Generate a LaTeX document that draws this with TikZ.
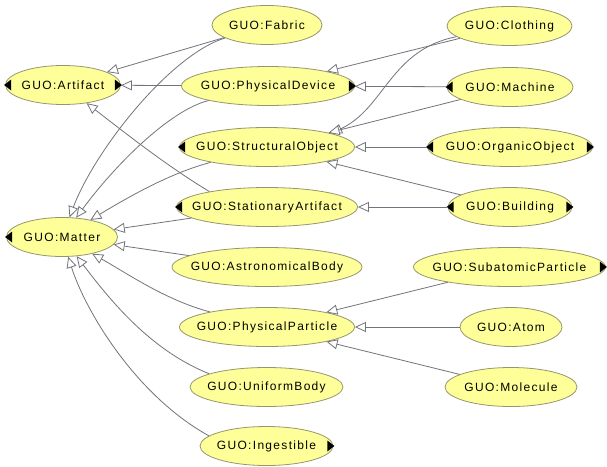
\documentclass[tikz,border=0pt]{standalone}
\usepackage{fontspec}
\setmainfont{Liberation Sans}[LetterSpace=11]
\usetikzlibrary{arrows.meta,shapes.geometric}
\definecolor{nodefill}{RGB}{255,255,153}
\definecolor{nodeline}{RGB}{150,150,110}
\definecolor{edgeline}{RGB}{115,115,125}
\newcommand\lab[1]{\makebox[0pt]{#1}}
\newcommand\lmark[1]{\fill[black] ([xshift=-1pt]#1.west) -- ++(7,-5.5) -- ++(0,11) -- cycle;}
\newcommand\rmark[1]{\fill[black] ([xshift=1pt]#1.east) -- ++(-7,-5.5) -- ++(0,11) -- cycle;}
\begin{document}
\begin{tikzpicture}[x=1pt,y=-1pt,
  cls/.style={ellipse, draw=nodeline, fill=nodefill, line width=0.8pt,
    minimum height=39pt, inner sep=0pt, font=\fontsize{12}{14}\selectfont, text=black},
  isa/.style={draw=edgeline, line width=0.8pt,
    -{Triangle[length=11pt,width=10pt,fill=white]}}]
\useasboundingbox (0,0) rectangle (607,466);
\fill[white] (0,0) rectangle (607,466);
% left column
\node[cls, minimum width=115pt] (art) at (63,85) {\lab{GUO:Artifact}};
\node[cls, minimum width=111pt] (mat) at (62,237) {\lab{GUO:Matter}};
% middle column
\node[cls, minimum width=110pt] (fab) at (267,25) {\lab{GUO:Fabric}};
\node[cls, minimum width=173pt] (pd) at (268,86) {\lab{GUO:PhysicalDevice}};
\node[cls, minimum width=175pt] (so) at (267,147) {\lab{GUO:StructuralObject}};
\node[cls, minimum width=181pt] (sa) at (267,207) {\lab{GUO:StationaryArtifact}};
\node[cls, minimum width=190pt] (ast) at (267,267) {\lab{GUO:AstronomicalBody}};
\node[cls, minimum width=175pt] (pp) at (267,327) {\lab{GUO:PhysicalParticle}};
\node[cls, minimum width=153pt] (ub) at (266.5,387) {\lab{GUO:UniformBody}};
\node[cls, minimum width=133pt] (ing) at (266.5,446) {\lab{GUO:Ingestible}};
% right column
\node[cls, minimum width=125pt] (clo) at (509.5,26) {\lab{GUO:Clothing}};
\node[cls, minimum width=126pt] (mac) at (510,87) {\lab{GUO:Machine}};
\node[cls, minimum width=165pt] (org) at (510,147) {\lab{GUO:OrganicObject}};
\node[cls, minimum width=124pt] (bld) at (510,207) {\lab{GUO:Building}};
\node[cls, minimum width=192pt] (sub) at (509.5,267) {\lab{GUO:SubatomicParticle}};
\node[cls, minimum width=102pt] (atom) at (511,327) {\lab{GUO:Atom}};
\node[cls, minimum width=132pt] (mol) at (511,387) {\lab{GUO:Molecule}};
% expand markers
\lmark{art} \rmark{art}
\rmark{pd}
\lmark{mac}
\lmark{so}
\lmark{org} \rmark{org}
\lmark{sa}
\lmark{bld} \rmark{bld}
\lmark{mat}
\rmark{sub}
\rmark{ing}
% edges
\draw[isa] (fab) -- (art);
\draw[isa] (pd) -- (art);
\draw[isa] (sa.165) .. controls (165,165) and (115,125) .. (art);
\draw[isa] (clo) -- (pd);
\draw[isa] (mac) -- (pd);
\draw[isa] (clo) .. controls (390,50) and (385,108) .. (so.12);
\draw[isa] (mac) -- (so.13);
\draw[isa] (org) -- (so);
\draw[isa] (bld) -- (so);
\draw[isa] (bld) -- (sa);
\draw[isa] (fab) .. controls (170,55) and (95,150) .. (mat);
\draw[isa] (pd) .. controls (170,110) and (115,165) .. (mat);
\draw[isa] (so) .. controls (175,172) and (140,190) .. (mat);
\draw[isa] (sa) -- (mat);
\draw[isa] (ast) -- (mat);
\draw[isa] (pp) .. controls (165,300) and (125,272) .. (mat);
\draw[isa] (ub.167) .. controls (150,350) and (110,300) .. (mat);
\draw[isa] (ing.170) .. controls (135,395) and (85,310) .. (mat);
\draw[isa] (sub) -- (pp);
\draw[isa] (atom) -- (pp);
\draw[isa] (mol) -- (pp);
\end{tikzpicture}
\end{document}
